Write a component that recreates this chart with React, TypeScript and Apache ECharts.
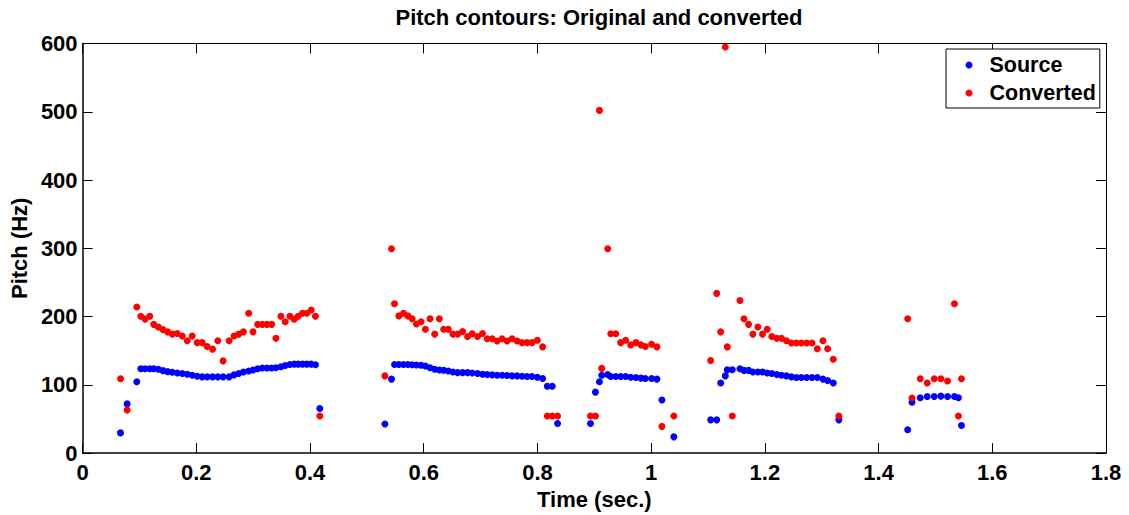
import React, { useEffect, useRef } from "react";
import * as echarts from "echarts";

// ---- Data (time in seconds, pitch in Hz), one block per voiced segment ----
const seg1Time = [0.0667, 0.0783, 0.0953, 0.1023, 0.1099, 0.1181, 0.1251, 0.1332, 0.1414, 0.1496, 0.1578, 0.1665, 0.1753, 0.1841, 0.1928, 0.2016, 0.2104, 0.2191, 0.2285, 0.2378, 0.2472, 0.2577, 0.2664, 0.2746, 0.2828, 0.2921, 0.2997, 0.3079, 0.3161, 0.3243, 0.3325, 0.34, 0.3488, 0.3564, 0.3646, 0.3722, 0.3792, 0.3868, 0.3944, 0.402, 0.4096, 0.4172];
const seg1Source = [29.6, 72.1, 104.5, 123.6, 123.6, 123.6, 123.6, 122.7, 120.8, 119.3, 118.4, 117.4, 116.5, 115.5, 114.1, 112.7, 111.7, 111.7, 111.7, 111.7, 111.7, 111.7, 114.6, 116.5, 118.9, 120.3, 121.7, 123.6, 124.6, 124.6, 124.6, 125.1, 126.5, 128.4, 129.8, 130.3, 130.3, 130.3, 130.3, 130.3, 129.4, 65.4];
const seg1Converted = [108.8, 63.0, 213.9, 200.5, 196.2, 200.5, 188.6, 184.8, 180.9, 177.6, 174.3, 175.2, 171.4, 164.7, 171.4, 161.8, 161.8, 156.1, 152.3, 164.7, 135.1, 164.7, 171.4, 174.3, 177.6, 204.8, 177.6, 188.6, 188.6, 188.6, 188.6, 168.1, 200.5, 192.4, 200.5, 196.2, 200.5, 204.8, 204.8, 209.6, 200.5, 54.4];

const seg2Time = [0.5317, 0.5433, 0.5486, 0.5562, 0.5644, 0.572, 0.5796, 0.5872, 0.5953, 0.6029, 0.6111, 0.6193, 0.6275, 0.6351, 0.6432, 0.6514, 0.6596, 0.6684, 0.6771, 0.6853, 0.6947, 0.7034, 0.7116, 0.7203, 0.7291, 0.7379, 0.7466, 0.7554, 0.7642, 0.7729, 0.7817, 0.7904, 0.7998, 0.8091, 0.8173, 0.8261, 0.8354];
const seg2Source = [42.5, 108.4, 129.8, 129.8, 129.8, 129.8, 129.5, 129.0, 128.8, 127.5, 125.1, 122.7, 121.7, 121.3, 120.3, 118.9, 117.9, 117.9, 117.9, 117.4, 116.5, 115.5, 115.0, 114.6, 114.1, 114.1, 113.6, 113.1, 113.1, 112.7, 112.2, 112.2, 111.2, 109.3, 97.9, 97.9, 43.4];
const seg2Converted = [113.1, 299.4, 218.7, 201.0, 204.8, 201.0, 196.7, 189.1, 192.4, 181.4, 196.7, 174.3, 196.7, 181.4, 181.4, 174.3, 174.3, 178.1, 170.9, 174.7, 170.9, 175.2, 167.6, 167.6, 164.2, 167.6, 164.2, 167.6, 164.2, 161.8, 161.8, 161.8, 165.2, 155.6, 54.4, 54.4, 54.4];

const seg3Time = [0.8933, 0.902, 0.909, 0.9131, 0.9236, 0.9289, 0.9377, 0.9464, 0.9552, 0.964, 0.9733, 0.9821, 0.9897, 1.0008, 1.0101, 1.0189, 1.0399];
const seg3Source = [43.4, 89.3, 104.5, 114.1, 115.0, 112.2, 112.2, 112.2, 112.2, 111.2, 110.7, 109.8, 109.3, 109.3, 108.4, 77.8, 23.8];
const seg3Converted = [54.4, 54.4, 502.0, 124.1, 299.4, 174.7, 174.7, 161.8, 165.2, 158.5, 161.8, 158.5, 156.1, 159.5, 155.6, 39.1, 54.4];

const seg4Time = [1.1047, 1.1153, 1.1223, 1.1304, 1.1339, 1.1427, 1.1562, 1.1632, 1.1713, 1.1789, 1.1877, 1.1959, 1.2041, 1.2122, 1.221, 1.2292, 1.2379, 1.2467, 1.2555, 1.2642, 1.2736, 1.2829, 1.2923, 1.3022, 1.3104, 1.3203, 1.3302];
const seg4Source = [48.7, 48.7, 102.6, 113.1, 122.2, 122.2, 123.6, 121.2, 121.2, 118.9, 118.9, 118.9, 117.4, 116.5, 115.0, 114.1, 113.1, 111.7, 110.7, 110.7, 110.7, 110.7, 110.7, 108.4, 106.4, 102.6, 48.7];
const seg4Converted = [135.6, 234.0, 177.6, 595.0, 155.6, 54.4, 223.5, 196.7, 188.6, 174.3, 184.8, 174.3, 181.4, 170.9, 168.1, 168.1, 164.7, 161.4, 161.4, 161.4, 161.4, 161.4, 152.8, 164.7, 152.8, 137.5, 54.4];

const seg5Time = [1.4512, 1.4588, 1.4733, 1.4856, 1.4979, 1.5096, 1.5213, 1.5335, 1.5405, 1.5458];
const seg5Source = [34.3, 74.5, 81.1, 83.0, 83.0, 83.5, 83.0, 83.0, 81.1, 40.5];
const seg5Converted = [196.7, 80.7, 108.8, 102.6, 108.8, 108.8, 105.5, 218.7, 54.4, 108.8];

const xTicks = { min: 0, max: 1.8, interval: 0.2 };
const yTicks = { min: 0, max: 600, interval: 100 };

const seriesNames = ["Source", "Converted"];
const seriesColors = ["#0000ff", "#ff0000"];

const segments = [
  [seg1Time, seg1Source, seg1Converted],
  [seg2Time, seg2Source, seg2Converted],
  [seg3Time, seg3Source, seg3Converted],
  [seg4Time, seg4Source, seg4Converted],
  [seg5Time, seg5Source, seg5Converted],
];

const FONT = '"Liberation Sans", Arial, Helvetica, sans-serif';

function buildPoints(which: number): number[][] {
  const out: number[][] = [];
  for (const seg of segments) {
    const t = seg[0];
    const v = seg[which];
    for (let i = 0; i < t.length; i++) out.push([t[i], v[i]]);
  }
  return out;
}

export default function App() {
  const ref = useRef<HTMLDivElement>(null);
  useEffect(() => {
    document.body.style.margin = "0";
    document.documentElement.style.overflow = "hidden";
    document.body.style.overflow = "hidden";
    if (!ref.current) return;
    const chart = echarts.init(ref.current, null, { renderer: "svg" });
    const text = { fontFamily: FONT, fontWeight: "bold" as const, fontSize: 22, color: "#000" };
    const lineMain = { show: true, onZero: false, lineStyle: { color: "#000", width: 1.5 } };
    const lineBox = { show: true, onZero: false, lineStyle: { color: "#000", width: 1 } };
    const tick = { show: true, inside: true, length: 10, lineStyle: { color: "#000", width: 1 } };
    chart.setOption({
      animation: false,
      backgroundColor: "#ffffff",
      title: {
        text: "Pitch contours: Original and converted",
        left: 594,
        top: 1,
        textAlign: "center",
        textStyle: { ...text },
      },
      grid: { left: 79, width: 1027, top: 43.5, height: 418.8, containLabel: false },
      legend: {
        orient: "vertical",
        left: 946,
        top: 49,
        padding: [5, 4, 4, 19.5],
        itemGap: 6,
        itemWidth: 7,
        itemHeight: 7,
        icon: "circle",
        borderColor: "#000",
        borderWidth: 1,
        backgroundColor: "#ffffff",
        textStyle: { ...text, fontSize: 21.5, padding: [0, 0, 0, 12] },
        data: seriesNames,
      },
      xAxis: [
        {
          type: "value",
          position: "bottom",
          ...xTicks,
          axisLine: lineMain,
          axisTick: tick,
          splitLine: { show: false },
          axisLabel: { ...text, margin: 8 },
          name: "Time (sec.)",
          nameLocation: "middle",
          nameGap: 26,
          nameTextStyle: text,
        },
        {
          type: "value",
          position: "top",
          ...xTicks,
          axisLine: lineBox,
          axisTick: tick,
          splitLine: { show: false },
          axisLabel: { show: false },
        },
      ],
      yAxis: [
        {
          type: "value",
          position: "left",
          ...yTicks,
          axisLine: lineMain,
          axisTick: tick,
          splitLine: { show: false },
          axisLabel: { ...text, margin: 5 },
          name: "Pitch (Hz)",
          nameLocation: "middle",
          nameGap: 46,
          nameTextStyle: text,
        },
        {
          type: "value",
          position: "right",
          ...yTicks,
          axisLine: lineBox,
          axisTick: tick,
          splitLine: { show: false },
          axisLabel: { show: false },
        },
      ],
      series: seriesNames.map((name, i) => ({
        type: "scatter",
        name,
        xAxisIndex: 0,
        yAxisIndex: 0,
        symbol: "circle",
        symbolSize: 7,
        itemStyle: { color: seriesColors[i], opacity: 1 },
        data: buildPoints(i + 1),
      })),
    });
    return () => chart.dispose();
  }, []);
  return (
    <div
      ref={ref}
      style={{ position: "relative", width: 1129, height: 515, overflow: "hidden" }}
    />
  );
}
